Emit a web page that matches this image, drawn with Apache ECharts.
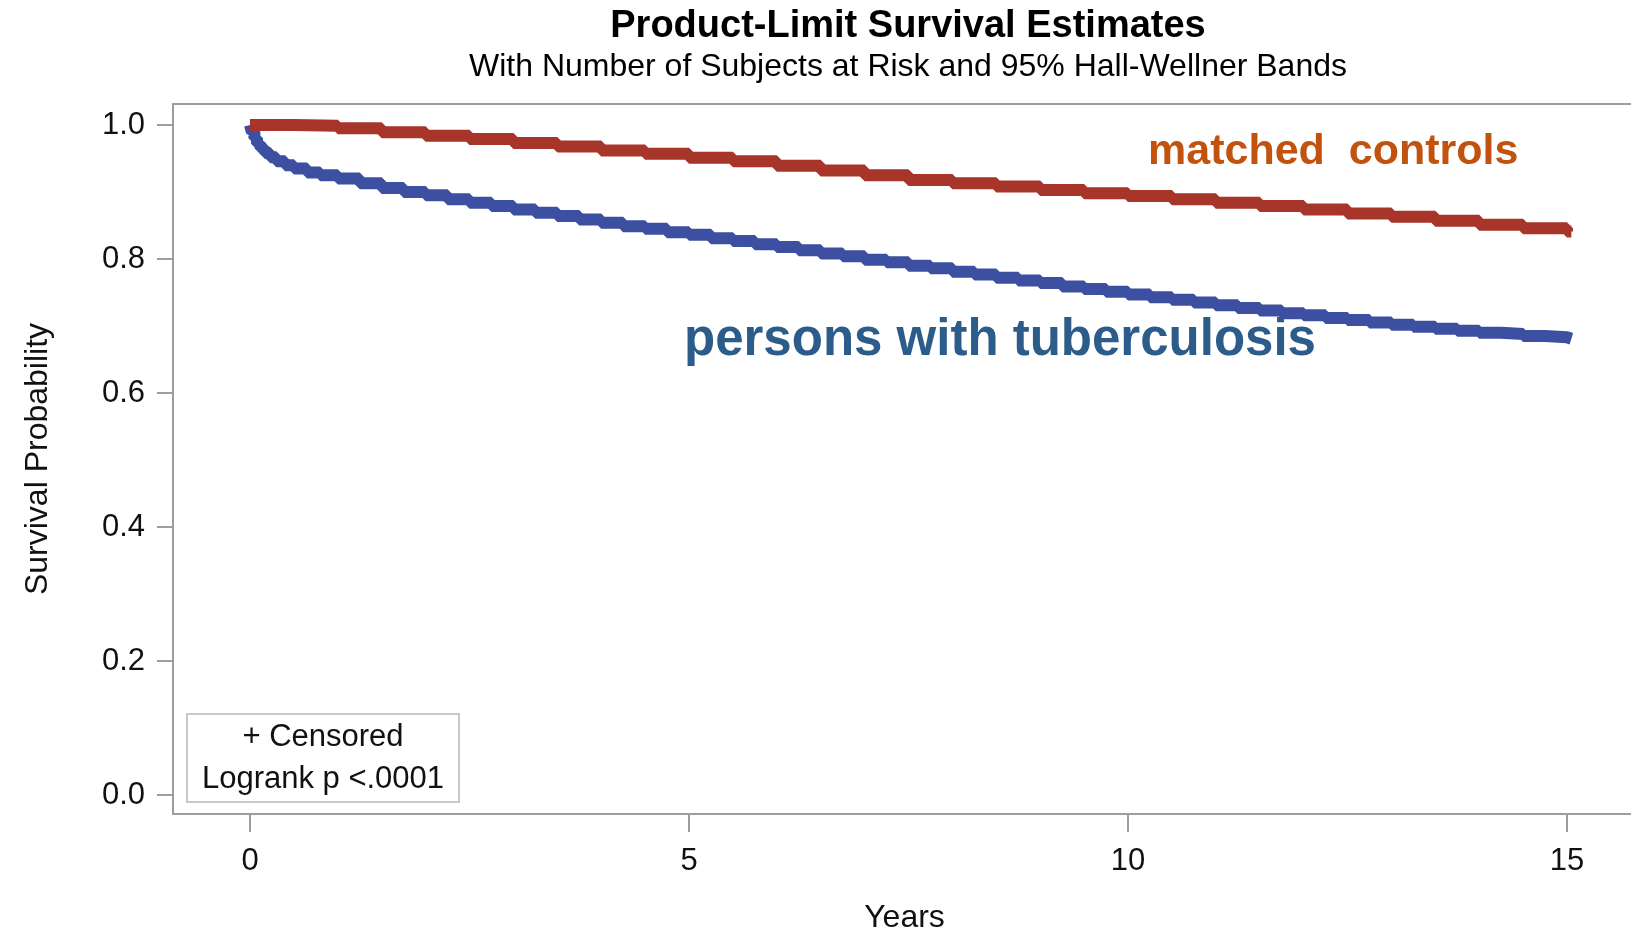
<!DOCTYPE html>
<html lang="en">
<head>
    <meta charset="UTF-8">
    <title>Product-Limit Survival Estimates</title>
    <!-- echarts from CDN -->
    <script src="https://cdn.jsdelivr.net/npm/echarts@6.0.0/dist/echarts.min.js"></script>
    <style>
        html, body { margin: 0; padding: 0; background: #fff; }
        #main { width: 1631px; height: 932px; }
    </style>
</head>
<body>
<div id="main"></div>

<script type="text/javascript">
    // matched controls (years, survival)
    var ctrlYears = [0, 0.5, 1, 1.5, 2, 2.5, 3, 3.5, 4, 4.5, 5, 5.5, 6, 6.5, 7, 7.5, 8, 8.5, 9, 9.5,
        10, 10.5, 11, 11.5, 12, 12.5, 13, 13.5, 14, 14.5, 15, 15.05];
    var ctrlSurv = [1.000, 0.999, 0.995, 0.989, 0.984, 0.979, 0.973, 0.968, 0.962, 0.957, 0.951, 0.946,
        0.939, 0.932, 0.925, 0.918, 0.913, 0.908, 0.903, 0.898, 0.894, 0.889, 0.884, 0.879, 0.874,
        0.868, 0.863, 0.857, 0.851, 0.846, 0.841, 0.840];

    // persons with tuberculosis (years, survival)
    var tbYears = [0, 0.02, 0.05, 0.08, 0.12, 0.17, 0.23, 0.3, 0.4, 0.5, 0.65, 0.8, 1, 1.25, 1.5, 1.75,
        2, 2.25, 2.5, 2.75, 3, 3.25, 3.5, 3.75, 4, 4.25, 4.5, 4.75, 5, 5.25, 5.5, 5.75, 6, 6.25, 6.5, 6.75,
        7, 7.25, 7.5, 7.75, 8, 8.25, 8.5, 8.75, 9, 9.25, 9.5, 9.75, 10, 10.25, 10.5, 10.75, 11, 11.25,
        11.5, 11.75, 12, 12.25, 12.5, 12.75, 13, 13.25, 13.5, 13.75, 14, 14.25, 14.5, 14.75, 15, 15.05];
    var tbSurv = [1.000, 0.990, 0.980, 0.972, 0.965, 0.958, 0.952, 0.946, 0.940, 0.935, 0.929, 0.925,
        0.920, 0.913, 0.906, 0.900, 0.895, 0.889, 0.884, 0.879, 0.874, 0.869, 0.864, 0.859, 0.854,
        0.849, 0.845, 0.840, 0.836, 0.831, 0.827, 0.822, 0.818, 0.813, 0.808, 0.804, 0.799, 0.795,
        0.790, 0.786, 0.781, 0.777, 0.772, 0.768, 0.764, 0.759, 0.755, 0.751, 0.747, 0.743, 0.739,
        0.735, 0.731, 0.727, 0.723, 0.719, 0.716, 0.712, 0.709, 0.705, 0.702, 0.699, 0.696, 0.693,
        0.690, 0.688, 0.685, 0.683, 0.681, 0.681];

    var xTicks = [0, 5, 10, 15];
    var yTicks = [0, 0.2, 0.4, 0.6, 0.8, 1.0];

    function pairs(xs, ys) {
        return xs.map(function (x, i) { return [x, ys[i]]; });
    }

    var FONT = '"Liberation Sans", Arial, sans-serif';
    var AXIS_GREY = '#9d9d9d';

    var chartDom = document.getElementById('main');
    var myChart = echarts.init(chartDom);
    var option;

    option = {
        animation: false,
        backgroundColor: '#fff',
        grid: {
            left: 173,
            top: 104,
            right: -5,
            bottom: 118,
            outerBoundsMode: 'none',
            show: true,
            borderColor: AXIS_GREY,
            borderWidth: 2
        },
        xAxis: {
            type: 'value',
            min: -0.877,
            max: 15.786,
            name: 'Years',
            nameLocation: 'middle',
            nameGap: 88,
            nameTextStyle: { fontFamily: FONT, fontSize: 32, color: '#111' },
            axisLine: { show: true, onZero: false, lineStyle: { color: AXIS_GREY, width: 2 } },
            axisTick: { show: true, length: 18, customValues: xTicks, lineStyle: { color: AXIS_GREY, width: 2 } },
            axisLabel: { customValues: xTicks, margin: 32, fontFamily: FONT, fontSize: 31, color: '#111' },
            splitLine: { show: false }
        },
        yAxis: {
            type: 'value',
            min: -0.0284,
            max: 1.0313,
            name: 'Survival Probability',
            nameLocation: 'middle',
            nameRotate: 90,
            nameGap: 119,
            nameTextStyle: { fontFamily: FONT, fontSize: 32, color: '#111' },
            axisLine: { show: true, onZero: false, lineStyle: { color: AXIS_GREY, width: 2 } },
            axisTick: { show: true, length: 16, customValues: yTicks, lineStyle: { color: AXIS_GREY, width: 2 } },
            axisLabel: {
                customValues: yTicks, margin: 28, fontFamily: FONT, fontSize: 31, color: '#111',
                formatter: function (v) { return v.toFixed(1); }
            },
            splitLine: { show: false }
        },
        series: [
            {
                name: 'persons with tuberculosis',
                type: 'line',
                step: 'end',
                symbol: 'none',
                data: pairs(tbYears, tbSurv),
                lineStyle: { color: '#3d4fa0', width: 12 }
            },
            {
                name: 'matched controls',
                type: 'line',
                step: 'end',
                symbol: 'none',
                data: pairs(ctrlYears, ctrlSurv),
                lineStyle: { color: '#a8352a', width: 12 }
            }
        ],
        graphic: [
            {
                type: 'text', x: 908, y: 27,
                style: {
                    text: 'Product-Limit Survival Estimates', fill: '#000',
                    font: 'bold 38px ' + FONT, align: 'center', verticalAlign: 'middle',
                    textAlign: 'center', textVerticalAlign: 'middle'
                }
            },
            {
                type: 'text', x: 908, y: 67,
                style: {
                    text: 'With Number of Subjects at Risk and 95% Hall-Wellner Bands', fill: '#000',
                    font: '32px ' + FONT, align: 'center', verticalAlign: 'middle',
                    textAlign: 'center', textVerticalAlign: 'middle'
                }
            },
            {
                type: 'text', x: 1148, y: 152,
                style: {
                    text: 'matched  controls', fill: '#c2530f',
                    font: 'bold 43px ' + FONT, align: 'left', verticalAlign: 'middle',
                    textAlign: 'left', textVerticalAlign: 'middle'
                }
            },
            {
                type: 'text', x: 684, y: 341,
                style: {
                    text: 'persons with tuberculosis', fill: '#2c5c8a',
                    font: 'bold 51px ' + FONT, align: 'left', verticalAlign: 'middle',
                    textAlign: 'left', textVerticalAlign: 'middle'
                }
            },
            {
                type: 'rect',
                shape: { x: 187, y: 714, width: 272, height: 88 },
                style: { fill: '#fff', stroke: '#c8c8c8', lineWidth: 2 }
            },
            {
                type: 'text', x: 323, y: 737,
                style: {
                    text: '+ Censored', fill: '#111',
                    font: '31px ' + FONT, align: 'center', verticalAlign: 'middle',
                    textAlign: 'center', textVerticalAlign: 'middle'
                }
            },
            {
                type: 'text', x: 323, y: 779,
                style: {
                    text: 'Logrank p <.0001', fill: '#111',
                    font: '31px ' + FONT, align: 'center', verticalAlign: 'middle',
                    textAlign: 'center', textVerticalAlign: 'middle'
                }
            }
        ]
    };

    option && myChart.setOption(option);
</script>
</body>
</html>
